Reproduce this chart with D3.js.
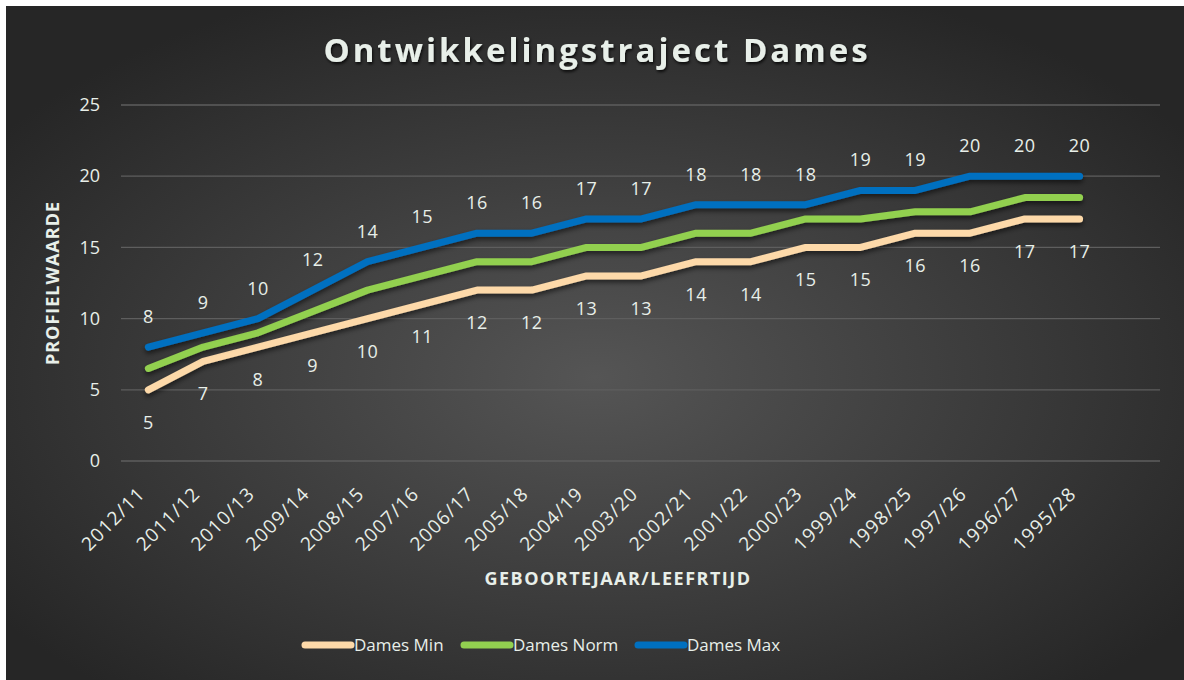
<!DOCTYPE html>
<html>
<head>
<meta charset="utf-8">
<script src="https://cdn.jsdelivr.net/npm/d3@7"></script>
<style>
  html, body { margin: 0; padding: 0; background: #fff; }
  svg { display: block; }
  text { font-family: "Open Sans", Lato, sans-serif; }
</style>
</head>
<body>
<div id="chart"></div>
<script>
// categories (geboortejaar/leeftijd)
const categories = ["2012/11", "2011/12", "2010/13", "2009/14", "2008/15", "2007/16",
    "2006/17", "2005/18", "2004/19", "2003/20", "2002/21", "2001/22", "2000/23",
    "1999/24", "1998/25", "1997/26", "1996/27", "1995/28"];

const damesMin  = [5, 7, 8, 9, 10, 11, 12, 12, 13, 13, 14, 14, 15, 15, 16, 16, 17, 17];
const damesNorm = [6.5, 8, 9, 10.5, 12, 13, 14, 14, 15, 15, 16, 16, 17, 17, 17.5, 17.5, 18.5, 18.5];
const damesMax  = [8, 9, 10, 12, 14, 15, 16, 16, 17, 17, 18, 18, 18, 19, 19, 20, 20, 20];

const yTicks = [0, 5, 10, 15, 20, 25];

const series = [
    { name: "Dames Min",  values: damesMin,  color: "#fdd9a9", label: "below" },
    { name: "Dames Norm", values: damesNorm, color: "#92d050", label: null },
    { name: "Dames Max",  values: damesMax,  color: "#0070c0", label: "above" }
];

const width = 1184, height = 680;
const textColor = "#e8efe9";

const svg = d3.select("#chart").append("svg")
    .attr("width", width)
    .attr("height", height);

const defs = svg.append("defs");
const grad = defs.append("radialGradient")
    .attr("id", "bg")
    .attr("cx", "50%").attr("cy", "55%").attr("r", "62%");
grad.append("stop").attr("offset", "0%").attr("stop-color", "#555555");
grad.append("stop").attr("offset", "100%").attr("stop-color", "#262626");

const shadow = defs.append("filter").attr("id", "shadow")
    .attr("x", "-5%").attr("y", "-20%").attr("width", "110%").attr("height", "160%");
shadow.append("feDropShadow")
    .attr("dx", 0).attr("dy", 3).attr("stdDeviation", 2.5)
    .attr("flood-color", "#000").attr("flood-opacity", 0.55);

const titleShadow = defs.append("filter").attr("id", "tshadow");
titleShadow.append("feDropShadow")
    .attr("dx", 1).attr("dy", 2).attr("stdDeviation", 1.5)
    .attr("flood-color", "#000").attr("flood-opacity", 0.8);

svg.append("rect")
    .attr("x", 6).attr("y", 6)
    .attr("width", width - 6).attr("height", height - 6)
    .attr("fill", "url(#bg)");

// scales
const x = d3.scaleBand()
    .domain(categories)
    .range([121, 1107]);
const gridRight = 1160;

const y = d3.scaleLinear()
    .domain([0, 25])
    .range([461, 105]);

const cx = c => x(c) + x.bandwidth() / 2;

// gridlines
svg.append("g")
    .selectAll("line")
    .data(yTicks)
    .join("line")
        .attr("x1", 121)
        .attr("x2", gridRight)
        .attr("y1", d => y(d))
        .attr("y2", d => y(d))
        .attr("stroke", "#5e5e5e")
        .attr("stroke-width", 1.3);

// y axis labels
const yAxis = svg.append("g")
    .attr("transform", "translate(121,0)")
    .call(d3.axisLeft(y).tickValues(yTicks).tickSize(0).tickPadding(21));
yAxis.select(".domain").remove();
yAxis.selectAll("text")
    .attr("fill", textColor)
    .attr("font-size", "18px")
    .attr("font-family", "'Open Sans', sans-serif");

// x axis labels
const xAxis = svg.append("g")
    .attr("transform", "translate(0,461)")
    .call(d3.axisBottom(x).tickSize(0));
xAxis.select(".domain").remove();
xAxis.selectAll("text")
    .attr("fill", textColor)
    .attr("font-size", "19px")
    .attr("font-family", "'Open Sans', sans-serif")
    .attr("letter-spacing", "1.2px")
    .attr("text-anchor", "end")
    .attr("y", 0)
    .attr("dy", 0)
    .attr("transform", "translate(-2,34) rotate(-45)");

// lines
const line = d3.line()
    .x((d, i) => cx(categories[i]))
    .y(d => y(d));

svg.append("g")
    .selectAll("path")
    .data(series)
    .join("path")
        .attr("d", d => line(d.values))
        .attr("fill", "none")
        .attr("stroke", d => d.color)
        .attr("stroke-width", 7)
        .attr("stroke-linecap", "round")
        .attr("stroke-linejoin", "round")
        .attr("filter", "url(#shadow)");

// data labels
series.filter(s => s.label).forEach(s => {
    svg.append("g")
        .selectAll("text")
        .data(s.values)
        .join("text")
            .attr("x", (d, i) => cx(categories[i]))
            .attr("y", d => y(d) + (s.label === "above" ? -24 : 39))
            .attr("text-anchor", "middle")
            .attr("fill", textColor)
            .attr("font-size", "18px")
            .attr("letter-spacing", "0.5px")
            .text(d => d);
});

// title
svg.append("text")
    .attr("x", 597)
    .attr("y", 62)
    .attr("text-anchor", "middle")
    .attr("fill", textColor)
    .attr("font-size", "33px")
    .attr("font-weight", "bold")
    .attr("letter-spacing", "3px")
    .attr("filter", "url(#tshadow)")
    .text("Ontwikkelingstraject Dames");

// axis titles
svg.append("text")
    .attr("transform", "translate(59,283) rotate(-90)")
    .attr("text-anchor", "middle")
    .attr("fill", textColor)
    .attr("font-size", "18px")
    .attr("font-weight", "bold")
    .attr("letter-spacing", "1px")
    .text("PROFIELWAARDE");

svg.append("text")
    .attr("x", 618)
    .attr("y", 585)
    .attr("text-anchor", "middle")
    .attr("fill", textColor)
    .attr("font-size", "18px")
    .attr("font-weight", "bold")
    .attr("letter-spacing", "1.5px")
    .text("GEBOORTEJAAR/LEEFRTIJD");

// legend
const legendX = [305, 464, 638];
const legend = svg.append("g")
    .selectAll("g")
    .data(series)
    .join("g")
        .attr("transform", (d, i) => `translate(${legendX[i]},645)`);
legend.append("line")
    .attr("x1", 0).attr("x2", 46)
    .attr("stroke", d => d.color)
    .attr("stroke-width", 7)
    .attr("stroke-linecap", "round");
legend.append("text")
    .attr("x", 49)
    .attr("dy", "0.35em")
    .attr("fill", textColor)
    .attr("font-size", "17px")
    .attr("font-family", "Lato, sans-serif")
    .text(d => d.name);
</script>
</body>
</html>
